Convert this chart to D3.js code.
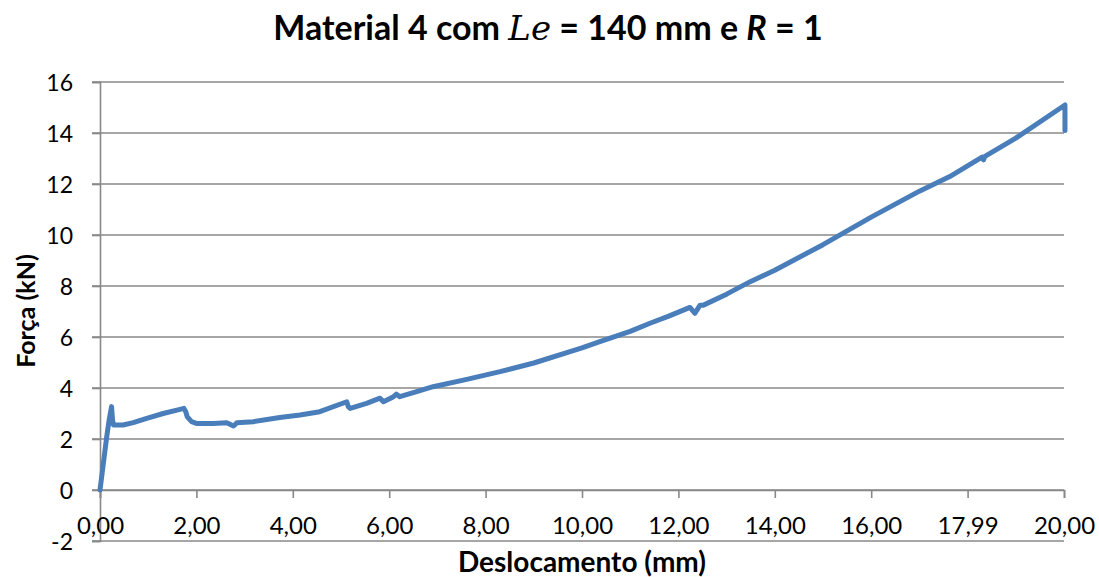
<!DOCTYPE html>
<html>
<head>
<meta charset="utf-8">
<script src="https://cdn.jsdelivr.net/npm/d3@7"></script>
<style>
  html, body { margin: 0; padding: 0; background: #fff; }
  svg { display: block; }
  text { font-family: Lato, "Open Sans", sans-serif; fill: #000; }
</style>
</head>
<body>
<svg id="chart" width="1099" height="577"></svg>
<script>
// Deslocamento (mm) x Força (kN)
const displacement = [
  0.00, 0.07, 0.14, 0.19, 0.24, 0.26, 0.28, 0.48, 0.69, 0.97, 1.31, 1.66, 1.74,
  1.78, 1.81, 1.90, 2.00, 2.35, 2.63, 2.77, 2.84, 3.18, 3.73, 4.15, 4.56, 5.12,
  5.15, 5.19, 5.53, 5.81, 5.88, 6.09, 6.15, 6.22, 6.57, 6.91, 7.61, 8.30, 9.00,
  10.00, 10.37, 11.00, 11.41, 11.80, 12.24, 12.34, 12.45, 12.52, 13.00, 13.49,
  14.00, 15.00, 16.00, 17.00, 17.63, 18.30, 18.33, 18.36, 19.00, 20.02, 20.02
];
const force = [
  0.00, 1.05, 2.10, 2.75, 3.27, 2.75, 2.55, 2.55, 2.64, 2.81, 3.00, 3.16, 3.20,
  3.07, 2.87, 2.68, 2.61, 2.61, 2.64, 2.51, 2.64, 2.68, 2.84, 2.94, 3.07, 3.46,
  3.27, 3.20, 3.40, 3.60, 3.46, 3.66, 3.76, 3.66, 3.86, 4.05, 4.34, 4.64, 4.98,
  5.57, 5.82, 6.22, 6.54, 6.82, 7.16, 6.93, 7.25, 7.25, 7.68, 8.17,
  8.62, 9.62, 10.70, 11.72, 12.29, 13.05, 12.95, 13.08, 13.80, 15.10, 14.10
];
const yTicks = [-2, 0, 2, 4, 6, 8, 10, 12, 14, 16];
const xTicks = [0, 2, 4, 6, 8, 10, 12, 14, 16, 18, 20];
const xTickLabels = ["0,00", "2,00", "4,00", "6,00", "8,00", "10,00", "12,00", "14,00", "16,00", "17,99", "20,00"];

const svg = d3.select("#chart");
const gridColor = "#888888";
const gridWidth = 1.6;

const x = d3.scaleLinear().domain([0, 20]).range([100, 1064]);
const y = d3.scaleLinear().domain([-2, 16]).range([541, 82]);

// horizontal gridlines
svg.append("g")
  .selectAll("line")
  .data(yTicks)
  .join("line")
  .attr("x1", 92).attr("x2", x(20))
  .attr("y1", d => y(d)).attr("y2", d => y(d))
  .attr("stroke", gridColor).attr("stroke-width", gridWidth);

// vertical axis (plain hyphen for negatives)
const yAxis = d3.axisLeft(y).tickValues(yTicks).tickSize(8).tickPadding(19).tickFormat(d => String(d));
svg.append("g")
  .attr("transform", `translate(${x(0)},0)`)
  .call(yAxis)
  .call(g => {
    g.select(".domain").attr("stroke", gridColor).attr("stroke-width", gridWidth);
    g.selectAll(".tick line").attr("stroke", gridColor).attr("stroke-width", gridWidth);
    g.selectAll(".tick text")
      .attr("font-family", "Lato, 'Open Sans', sans-serif")
      .attr("font-size", 23).attr("fill", "#000").attr("dy", "0.36em");
  });

// horizontal axis crossing at zero
const xAxis = d3.axisBottom(x).tickValues(xTicks).tickSize(8).tickPadding(19)
  .tickFormat((d, i) => xTickLabels[i]);
svg.append("g")
  .attr("transform", `translate(0,${y(0)})`)
  .call(xAxis)
  .call(g => {
    g.select(".domain").attr("stroke", gridColor).attr("stroke-width", gridWidth);
    g.selectAll(".tick line").attr("stroke", gridColor).attr("stroke-width", gridWidth);
    g.selectAll(".tick text")
      .attr("font-family", "Lato, 'Open Sans', sans-serif")
      .attr("font-size", 24).attr("fill", "#000");
  });

// force-displacement curve
const points = displacement.map((d, i) => [d, force[i]]);
svg.append("path")
  .datum(points)
  .attr("fill", "none")
  .attr("stroke", "#4a7ebb")
  .attr("stroke-width", 5)
  .attr("stroke-linejoin", "round")
  .attr("stroke-linecap", "round")
  .attr("d", d3.line().x(d => x(d[0])).y(d => y(d[1])));

// title
const title = svg.append("text")
  .attr("x", 548).attr("y", 40)
  .attr("text-anchor", "middle")
  .attr("font-size", 34).attr("font-weight", "bold");
title.append("tspan").text("Material 4 com ");
title.append("tspan").text("Le")
  .attr("font-family", "'DejaVu Serif', serif").attr("font-style", "italic").attr("font-weight", "normal");
title.append("tspan").text(" = 140 mm e ");
title.append("tspan").text("R").attr("font-style", "italic");
title.append("tspan").text(" = 1");

// axis titles
svg.append("text")
  .attr("x", 582).attr("y", 572)
  .attr("text-anchor", "middle")
  .attr("font-size", 28).attr("font-weight", "bold")
  .text("Deslocamento (mm)");

svg.append("text")
  .attr("transform", "translate(35,311) rotate(-90)")
  .attr("text-anchor", "middle")
  .attr("font-size", 25).attr("font-weight", "bold")
  .text("Força (kN)");
</script>
</body>
</html>
